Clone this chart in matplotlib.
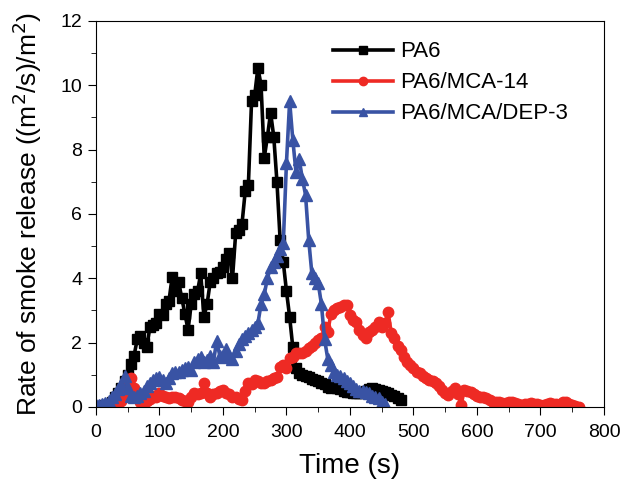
import matplotlib
matplotlib.use('Agg')
import matplotlib.pyplot as plt
import numpy as np

plt.rcParams['font.family'] = ['Liberation Sans', 'DejaVu Sans']

# time base (s), sampled every 5 s
t_pa6 = np.arange(0, 485, 5)
t_mca = np.arange(0, 765, 5)
t_dep = np.arange(0, 460, 5)

# rate of smoke release
pa6 = [0.0, 0.02, 0.03, 0.05, 0.1, 0.15, 0.3, 0.45, 0.6, 0.8,
       1.0, 1.35, 1.6, 2.1, 2.2, 2.0, 1.85, 2.5, 2.55, 2.6,
       2.9, 2.85, 3.2, 3.3, 4.05, 3.6, 3.9, 3.4, 2.9, 2.4,
       3.2, 3.5, 3.6, 4.15, 2.8, 3.2, 3.9, 4.0, 4.15, 4.2,
       4.35, 4.6, 4.8, 4.0, 5.4, 5.5, 5.7, 6.7, 6.9, 9.5,
       9.7, 10.55, 10.0, 7.75, 8.4, 9.15, 8.4, 7.0, 5.2, 4.5,
       3.6, 2.8, 1.85, 1.2, 1.05, 1.0, 0.95, 0.93, 0.88, 0.84,
       0.8, 0.74, 0.7, 0.62, 0.6, 0.63, 0.6, 0.55, 0.5, 0.48,
       0.47, 0.45, 0.44, 0.43, 0.45, 0.5, 0.55, 0.58, 0.55, 0.53,
       0.5, 0.47, 0.44, 0.38, 0.33, 0.28, 0.22]

mca14 = [0.0, 0.0, 0.02, 0.03, 0.05, 0.05, 0.08, 0.12, 0.2, 0.4,
         0.75, 0.9, 0.6, 0.28, 0.15, 0.12, 0.2, 0.25, 0.35, 0.3,
         0.43, 0.35, 0.3, 0.28, 0.31, 0.3, 0.28, 0.22, 0.2, 0.16,
         0.3, 0.43, 0.4, 0.45, 0.74, 0.45, 0.31, 0.4, 0.45, 0.5,
         0.53, 0.45, 0.4, 0.31, 0.3, 0.25, 0.22, 0.5, 0.74, 0.7,
         0.84, 0.8, 0.75, 0.74, 0.8, 0.84, 0.9, 0.93, 1.25, 1.3,
         1.2, 1.52, 1.55, 1.67, 1.67, 1.67, 1.75, 1.83, 1.9, 2.0,
         2.07, 2.13, 2.48, 2.33, 2.9, 3.0, 3.07, 3.1, 3.16, 3.16,
         2.85, 2.7, 2.64, 2.4, 2.25, 2.13, 2.33, 2.4, 2.5, 2.64,
         2.5, 2.6, 2.95, 2.3, 2.13, 1.9, 1.77, 1.55, 1.4, 1.3,
         1.2, 1.1, 1.05, 0.95, 0.9, 0.85, 0.8, 0.75, 0.65, 0.53,
         0.45, 0.37, 0.5, 0.6, 0.4, 0.06, 0.53, 0.5, 0.47, 0.4,
         0.35, 0.31, 0.3, 0.28, 0.22, 0.16, 0.16, 0.14, 0.12, 0.12,
         0.15, 0.16, 0.12, 0.08, 0.06, 0.08, 0.1, 0.12, 0.1, 0.08,
         0.06, 0.06, 0.1, 0.12, 0.1, 0.08, 0.1, 0.14, 0.16, 0.1,
         0.06, 0.03, 0.0]

dep3 = [0.05, 0.05, 0.08, 0.12, 0.2, 0.3, 0.4, 0.55, 0.7, 0.95,
        0.6, 0.35, 0.3, 0.35, 0.42, 0.5, 0.65, 0.75, 0.85, 0.9,
        0.92, 0.85, 0.75, 0.9, 1.05, 1.1, 1.1, 1.15, 1.2, 1.25,
        1.15, 1.4, 1.5, 1.55, 1.4, 1.45, 1.6, 1.4, 2.05, 1.6,
        1.55, 1.8, 1.6, 1.5, 1.75, 1.95, 2.1, 2.2, 2.3, 2.4,
        2.5, 2.6, 3.2, 3.5, 4.0, 4.35, 4.5, 4.7, 4.9, 5.1,
        7.6, 9.5, 8.3, 7.3, 7.7, 7.1, 6.6, 5.2, 4.15, 4.0,
        3.85, 3.2, 2.1, 1.5, 1.3, 1.1, 1.0, 0.95, 0.9, 0.8,
        0.75, 0.65, 0.55, 0.5, 0.5, 0.48, 0.45, 0.35, 0.3, 0.28,
        0.15, 0.1]

labels = ['PA6', 'PA6/MCA-14', 'PA6/MCA/DEP-3']

fig = plt.figure(figsize=(6.22, 4.9), dpi=100)
ax = fig.add_axes([0.1543, 0.1694, 0.8167, 0.7878])

ax.plot(t_pa6, pa6, color='black', marker='s', ms=6.5, lw=2.6, label=labels[0])
ax.plot(t_mca, mca14, color='#ee2a24', marker='o', ms=7.5, lw=2.6, label=labels[1])
ax.plot(t_dep, dep3, color='#3953a4', marker='^', ms=8, lw=2.6, label=labels[2])

ax.set_xlim(0, 800)
ax.set_ylim(0, 12)
ax.set_xticks(np.arange(0, 801, 100))
ax.set_xticks(np.arange(50, 800, 100), minor=True)
ax.set_yticks(np.arange(0, 13, 2))
ax.set_yticks(np.arange(1, 12, 2), minor=True)
ax.tick_params(which='both', direction='out', top=False, right=False, labelsize=14)
ax.tick_params(which='major', length=6)
ax.tick_params(which='minor', length=3.5)
ax.tick_params(axis='x', which='major', pad=6)
ax.tick_params(axis='y', which='major', pad=4)

ax.set_xlabel('Time (s)', fontsize=20, labelpad=9)
ax.set_ylabel('Rate of smoke release ((m$^2$/s)/m$^2$)', fontsize=19, labelpad=12)

ax.legend(loc='upper left', bbox_to_anchor=(0.467, 0.947), frameon=False,
          fontsize=16, handlelength=2.7, handletextpad=0.3, labelspacing=0.45,
          borderpad=0, borderaxespad=0, markerscale=0.8)

fig.savefig('out.png', dpi=100)
